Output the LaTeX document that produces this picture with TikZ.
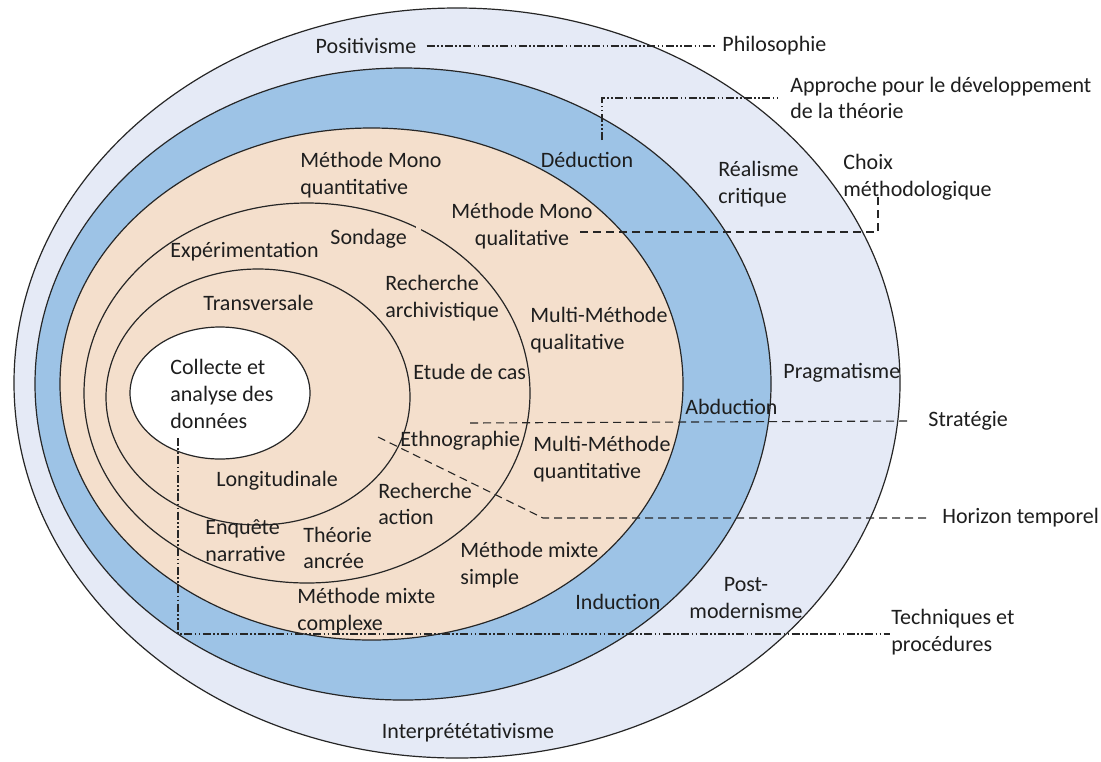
\documentclass[tikz,border=0pt]{standalone}
\usepackage{fontspec}
\setmainfont{Carlito}
\definecolor{outerc}{RGB}{229,234,246}
\definecolor{bluec}{RGB}{157,195,230}
\definecolor{peachc}{RGB}{244,223,204}
\definecolor{txtc}{RGB}{30,30,30}
\begin{document}
\begin{tikzpicture}[x=0.5pt,y=-0.5pt,
  lbl/.style={font=\fontsize{11}{13.4}\selectfont, inner sep=0pt, text=txtc},
  lbll/.style={lbl, align=left, anchor=west},
  lblc/.style={lbl, align=center},
  ringline/.style={draw=black!85, line width=0.6pt},
  ddot/.style={draw=black!85, line width=0.55pt, dash pattern=on 4pt off 1.2pt on 0.8pt off 1.2pt on 0.8pt off 1.2pt},
  dsh/.style={draw=black!85, line width=0.55pt, dash pattern=on 4pt off 2.5pt}]
\useasboundingbox (0,0) rectangle (1101,761);
\fill[white] (0,0) rectangle (1101,761);
% ellipses
\path[ringline, fill=outerc] (457,383) ellipse [x radius=443, y radius=375];
\path[ringline, fill=bluec] (403,384) ellipse [x radius=368, y radius=316];
\path[ringline, fill=peachc] (371.5,384) ellipse [x radius=311.5, y radius=256];
\path[ringline] (307,393) ellipse [x radius=223, y radius=190];
\path[ringline] (258,397) ellipse [x radius=152, y radius=128];
\path[ringline, fill=white] (220,393) ellipse [x radius=90, y radius=66];
% small break in the middle ring
\fill[peachc] (416,222) rectangle (421,234);
% labels
\node[lblc] (posit) at (366,46) {Positivisme};
\node[lbll] (philo) at (722,46) {Philosophie};
\node[lbll] (appr) at (790,98) {Approche pour le développement\\de la théorie};
\node[lblc] (deduc) at (587,160) {Déduction};
\node[lbll] (real) at (718,184) {Réalisme\\critique};
\node[lbll] (choix) at (843,177) {Choix\\méthodologique};
\node[lbll] (mmquant) at (300,175) {Méthode Mono\\quantitative};
\node[lblc] (mmqual) at (522,226) {Méthode Mono\\qualitative};
\node[lbll] (sond) at (330,239) {Sondage};
\node[lbll] (exper) at (170,252) {Expérimentation};
\node[lbll] (trans) at (203,303) {Transversale};
\node[lbll] (arch) at (385,298) {Recherche\\archivistique};
\node[lbll] (multiqual) at (530,330) {Multi-Méthode\\qualitative};
\node[lbll] (coll) at (170,394) {Collecte et\\analyse des\\données};
\node[lbll] (etude) at (413,372) {Etude de cas};
\node[lbll] (prag) at (783,373) {Pragmatisme};
\node[lbll] (abduc) at (685,407) {Abduction};
\node[lbll] (strat) at (928,421) {Stratégie};
\node[lbll] (ethno) at (400,441) {Ethnographie};
\node[lbll] (multiquant) at (533,459) {Multi-Méthode\\quantitative};
\node[lbll] (longi) at (216,481) {Longitudinale};
\node[lbll] (rechact) at (378,504) {Recherche\\action};
\node[lbll] (enq) at (205,541) {Enquête\\narrative};
\node[lbll] (theo) at (303,548) {Théorie\\ancrée};
\node[lbll] (mmsimple) at (460,565) {Méthode mixte\\simple};
\node[lbll] (mmcomplexe) at (297,611) {Méthode mixte\\complexe};
\node[lbll] (induc) at (575,602) {Induction};
\node[lblc] (postmod) at (746,598) {Post-\\modernisme};
\node[lbll] (tech) at (891,632) {Techniques et\\procédures};
\node[lbll] (horiz) at (942,518) {Horizon temporel};
\node[lblc] (interp) at (468,733) {Interprététativisme};
% anchor coordinates for leader lines
\coordinate (apA) at (602,140);
\coordinate (chA) at (580,232);
\coordinate (chB) at (878,197);
\coordinate (stA) at (470,423);
\coordinate (hoA) at (378,437);
\coordinate (hoB) at (543,518);
\coordinate (teA) at (178,438);
% leader lines
\draw[ddot] ([xshift=5pt]posit.east) -- ([xshift=-3.5pt]philo.west);
\draw[ddot] (apA) |- ([xshift=-5pt]appr.west);
\draw[dsh] (chA) -| (chB);
\draw[dsh] (stA) -- ([xshift=-10pt]strat.west);
\draw[dsh] (hoA) -- (hoB) -- ([xshift=-6pt]horiz.west);
\draw[ddot] (teA) |- ([xshift=-0.5pt,yshift=-1pt]tech.west);
\end{tikzpicture}
\end{document}
